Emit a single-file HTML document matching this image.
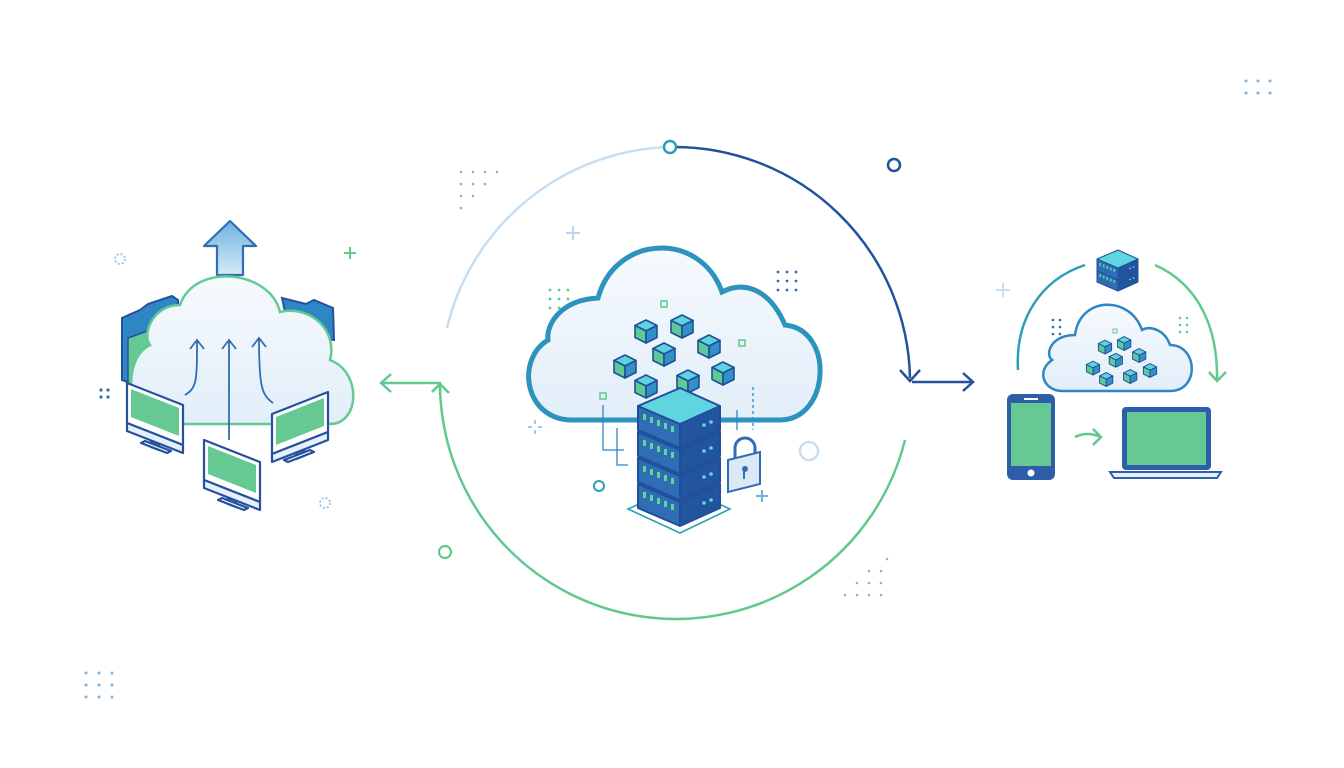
<!DOCTYPE html>
<html><head><meta charset="utf-8"><style>html,body{margin:0;padding:0;background:#fff}svg{display:block}</style></head>
<body>
<svg width="1344" height="768" viewBox="0 0 1344 768" xmlns="http://www.w3.org/2000/svg">
<defs>
<linearGradient id="cl" x1="0" y1="0" x2="0" y2="1"><stop offset="0" stop-color="#f6fafe"/><stop offset="1" stop-color="#e2eef9"/></linearGradient>
<linearGradient id="up" x1="0" y1="0" x2="0" y2="1"><stop offset="0" stop-color="#6fb2e0"/><stop offset="1" stop-color="#d6ebf7"/></linearGradient>
<g id="cube" stroke="#1f4f9a" stroke-width="1.6" stroke-linejoin="round">
<path d="M0,-11 L11,-5.5 L0,0 L-11,-5.5Z" fill="#5fd3dd"/>
<path d="M-11,-5.5 L0,0 L0,12 L-11,6.5Z" fill="#5ec994"/>
<path d="M0,0 L11,-5.5 L11,6.5 L0,12Z" fill="#3390c6"/>
</g>
<g id="unit" stroke="#1f4f9a" stroke-width="2" stroke-linejoin="round">
<path d="M-42,0 L0,18 L0,42 L-42,24Z" fill="#2f6db4"/>
<path d="M0,18 L40,0 L40,24 L0,42Z" fill="#23559f"/>
<path d="M-42,0 L0,-18 L40,0 L0,18Z" fill="#5fd6df"/>
<g fill="#63d39a" stroke="none"><rect x="-37" y="8" width="3" height="6"/><rect x="-30" y="11" width="3" height="6"/><rect x="-23" y="14" width="3" height="6"/><rect x="-16" y="17" width="3" height="6"/><rect x="-9" y="20" width="3" height="6"/></g>
<circle cx="24" cy="19" r="1.8" fill="#5fd6df" stroke="none"/><circle cx="31" cy="16" r="1.8" fill="#5fd6df" stroke="none"/>
</g>
<g id="mon" stroke="#24509e" stroke-width="2.2" stroke-linejoin="round">
<path d="M0,0 L56,22 L56,62 L0,40Z" fill="#fff"/>
<path d="M4,6 L52,25 L52,53 L4,34Z" fill="#66c993" stroke="none"/>
<path d="M0,40 L56,62 L56,70 L0,48Z" fill="#e6f0fa"/>
<path d="M24,58 L32,61 L32,67 L24,64Z" fill="#fff"/>
<path d="M14,60 L40,70 L44,68 L18,58Z" fill="#eef5fc"/>
</g>
</defs>

<!-- main ring -->
<path d="M447,328 A236,236 0 0 1 670,147" fill="none" stroke="#c4def3" stroke-width="2.5"/>
<path d="M670,147 A236,236 0 0 1 910,378" fill="none" stroke="#22519d" stroke-width="2.5"/>
<path d="M905,440 A236,236 0 0 1 440,385" fill="none" stroke="#5fc98e" stroke-width="2.5"/>
<circle cx="670" cy="147" r="6" fill="#fff" stroke="#2b9fb8" stroke-width="2.5"/>
<path d="M900,370 L910,381 L920,370" fill="none" stroke="#22519d" stroke-width="2.5"/>
<path d="M912,382 L972,382 M963,373 L973,382 L963,391" fill="none" stroke="#22519d" stroke-width="2.5"/>
<path d="M440,395 L440,383 L382,383 M391,374 L381,383 L391,392 M432,392 L440,384 L449,393" fill="none" stroke="#5fc98e" stroke-width="2.5"/>

<!-- decorations -->
<circle cx="894" cy="165" r="6" fill="none" stroke="#22519d" stroke-width="2.5"/>
<circle cx="445" cy="552" r="6" fill="none" stroke="#5fc98e" stroke-width="2.2"/>
<circle cx="809" cy="451" r="9" fill="none" stroke="#c4def3" stroke-width="2.5"/>
<circle cx="599" cy="486" r="5" fill="none" stroke="#2b9fb8" stroke-width="2"/>
<circle cx="120" cy="259" r="5" fill="none" stroke="#9cc9ec" stroke-width="2" stroke-dasharray="2 2"/>
<circle cx="325" cy="503" r="5" fill="none" stroke="#9cc9ec" stroke-width="2" stroke-dasharray="2 2"/>
<g stroke-width="2" fill="none">
<path d="M350,247v12M344,253h12" stroke="#5fc98e"/>
<path d="M573,226v14M566,233h14" stroke="#b8d6f0"/>
<path d="M1003,283v14M996,290h14" stroke="#c4def3"/>
<path d="M762,490v12M756,496h12" stroke="#6fb2e0"/>
<path d="M535,420v4M535,430v4M528,427h4M538,427h4" stroke="#9cc9ec"/>
</g>
<g fill="#7ab7df">
<circle cx="461" cy="172" r="1.3"/><circle cx="473" cy="172" r="1.3"/><circle cx="485" cy="172" r="1.3"/><circle cx="497" cy="172" r="1.3"/><circle cx="461" cy="184" r="1.3"/><circle cx="473" cy="184" r="1.3"/><circle cx="485" cy="184" r="1.3"/><circle cx="461" cy="196" r="1.3"/><circle cx="473" cy="196" r="1.3"/><circle cx="461" cy="208" r="1.3"/>
<circle cx="1246" cy="81" r="1.5"/><circle cx="1258" cy="81" r="1.5"/><circle cx="1270" cy="81" r="1.5"/><circle cx="1246" cy="93" r="1.5"/><circle cx="1258" cy="93" r="1.5"/><circle cx="1270" cy="93" r="1.5"/>
<circle cx="86" cy="673" r="1.5"/><circle cx="99" cy="673" r="1.5"/><circle cx="112" cy="673" r="1.5"/><circle cx="86" cy="685" r="1.5"/><circle cx="99" cy="685" r="1.5"/><circle cx="112" cy="685" r="1.5"/><circle cx="86" cy="697" r="1.5"/><circle cx="99" cy="697" r="1.5"/><circle cx="112" cy="697" r="1.5"/>
<circle cx="845" cy="595" r="1.3"/><circle cx="857" cy="595" r="1.3"/><circle cx="869" cy="595" r="1.3"/><circle cx="881" cy="595" r="1.3"/><circle cx="857" cy="583" r="1.3"/><circle cx="869" cy="583" r="1.3"/><circle cx="881" cy="583" r="1.3"/><circle cx="869" cy="571" r="1.3"/><circle cx="881" cy="571" r="1.3"/><circle cx="887" cy="559" r="1.3"/>
</g>
<g fill="#2f6db4"><circle cx="101" cy="390" r="1.6"/><circle cx="108" cy="390" r="1.6"/><circle cx="101" cy="397" r="1.6"/><circle cx="108" cy="397" r="1.6"/>
<circle cx="778" cy="272" r="1.4"/><circle cx="787" cy="272" r="1.4"/><circle cx="796" cy="272" r="1.4"/><circle cx="778" cy="281" r="1.4"/><circle cx="787" cy="281" r="1.4"/><circle cx="796" cy="281" r="1.4"/><circle cx="778" cy="290" r="1.4"/><circle cx="787" cy="290" r="1.4"/><circle cx="796" cy="290" r="1.4"/>
<circle cx="1053" cy="320" r="1.3"/><circle cx="1060" cy="320" r="1.3"/><circle cx="1053" cy="327" r="1.3"/><circle cx="1060" cy="327" r="1.3"/><circle cx="1053" cy="334" r="1.3"/><circle cx="1060" cy="334" r="1.3"/></g>
<g fill="#5fc98e"><circle cx="550" cy="290" r="1.4"/><circle cx="559" cy="290" r="1.4"/><circle cx="568" cy="290" r="1.4"/><circle cx="550" cy="299" r="1.4"/><circle cx="559" cy="299" r="1.4"/><circle cx="568" cy="299" r="1.4"/><circle cx="550" cy="308" r="1.4"/><circle cx="559" cy="308" r="1.4"/>
<circle cx="1180" cy="318" r="1.3"/><circle cx="1187" cy="318" r="1.3"/><circle cx="1180" cy="325" r="1.3"/><circle cx="1187" cy="325" r="1.3"/><circle cx="1180" cy="332" r="1.3"/><circle cx="1187" cy="332" r="1.3"/></g>

<!-- LEFT -->
<path d="M204,246 L230,221 L256,246 L243,246 L243,275 L217,275 L217,246Z" fill="url(#up)" stroke="#2f6db4" stroke-width="2.2" stroke-linejoin="round"/>
<path d="M122,318 L140,310 L148,304 L172,296 L178,300 L180,400 L122,380Z" fill="#2f86c4" stroke="#24509e" stroke-width="2"/>
<path d="M128,338 L178,320 L178,395 L128,388Z" fill="#66c993" stroke="#24509e" stroke-width="1.5"/>
<path d="M282,298 L306,304 L314,300 L333,308 L334,340 L290,335Z" fill="#2f86c4" stroke="#24509e" stroke-width="2"/>
<path d="M160,424 L330,424 C360,424 362,372 330,360 C338,330 310,305 280,312 C270,270 195,262 180,305 C152,305 142,335 150,345 C120,360 128,424 160,424Z" fill="url(#cl)" stroke="#62cb92" stroke-width="2.5"/>
<g fill="none" stroke="#2f6db4" stroke-width="1.8">
<path d="M185,395 C197,388 197,380 197,340 M190,349 L197,340 L204,349"/>
<path d="M229,440 L229,340 M222,349 L229,340 L236,349"/>
<path d="M273,403 C262,395 259,388 259,338 M252,347 L259,338 L266,347"/>
</g>
<use href="#mon" x="127" y="383"/>
<use href="#mon" x="204" y="440"/>
<g transform="translate(328,392) scale(-1,1)"><use href="#mon"/></g>

<!-- CENTER cloud -->
<path d="M572,420 L780,420 C830,420 835,330 785,325 C770,290 745,280 722,292 C700,230 615,235 598,298 C560,300 546,325 548,340 C515,360 525,420 572,420Z" fill="url(#cl)" stroke="#2b93bd" stroke-width="5"/>
<use href="#cube" x="646" y="331"/><use href="#cube" x="682" y="326"/><use href="#cube" x="709" y="346"/>
<use href="#cube" x="664" y="354"/><use href="#cube" x="625" y="366"/><use href="#cube" x="723" y="373"/>
<use href="#cube" x="646" y="386"/><use href="#cube" x="688" y="381"/>
<g fill="none" stroke="#5fc98e" stroke-width="1.5"><rect x="661" y="301" width="6" height="6"/><rect x="739" y="340" width="6" height="6"/><rect x="600" y="393" width="6" height="6"/></g>
<g fill="none" stroke="#2f86c4" stroke-width="1.3">
<path d="M603,405 V450 H624"/><path d="M617,428 V465 H628"/><path d="M753,387 V430" stroke-dasharray="3 3"/><path d="M737,410 V430"/>
</g>
<path d="M628,509 L680,486 L730,509 L680,533Z" fill="#fff" stroke="#2b9fb8" stroke-width="1.6"/>
<use href="#unit" x="680" y="484"/>
<use href="#unit" x="680" y="458"/>
<use href="#unit" x="680" y="432"/>
<use href="#unit" x="680" y="406"/>
<path d="M735,458 V448 A10,10 0 0 1 755,448 V458" fill="none" stroke="#2f6db4" stroke-width="3"/>
<path d="M728,460 L760,452 L760,484 L728,492Z" fill="#dbe9f7" stroke="#2f6db4" stroke-width="2"/>
<circle cx="745" cy="469" r="3" fill="#2f6db4"/><path d="M744,470 V479" stroke="#2f6db4" stroke-width="2"/>

<!-- RIGHT -->
<path d="M1018,370 C1015,320 1040,280 1085,265" fill="none" stroke="#2b9fb8" stroke-width="2.5"/>
<path d="M1155,265 C1200,285 1218,330 1217,380 M1209,372 L1217,381 L1226,372" fill="none" stroke="#5fc98e" stroke-width="2.5"/>
<g transform="translate(1118,259) scale(0.5)"><use href="#unit" y="22"/><use href="#unit"/></g>
<path d="M1062,391 L1170,391 C1200,391 1198,345 1170,345 C1165,330 1150,325 1142,330 C1130,295 1080,296 1075,335 C1050,335 1045,355 1052,360 C1035,372 1045,391 1062,391Z" fill="url(#cl)" stroke="#2f86c4" stroke-width="2.5"/>
<g transform="translate(1090,330) scale(0.6)">
<use href="#cube" x="25" y="28"/><use href="#cube" x="57" y="22"/><use href="#cube" x="43" y="50"/><use href="#cube" x="82" y="42"/><use href="#cube" x="5" y="63"/><use href="#cube" x="100" y="67"/><use href="#cube" x="27" y="82"/><use href="#cube" x="67" y="77"/>
</g>
<rect x="1113" y="329" width="4" height="4" fill="none" stroke="#5fc98e" stroke-width="1"/>
<rect x="1007" y="394" width="48" height="86" rx="6" fill="#2f5ea9"/>
<rect x="1011" y="403" width="40" height="63" fill="#66c993"/>
<circle cx="1031" cy="473" r="3.5" fill="#fff"/><rect x="1024" y="398" width="14" height="2" fill="#fff"/>
<path d="M1075,437 C1085,432 1093,434 1101,437 M1093,429 L1101,437 L1093,445" fill="none" stroke="#5fc98e" stroke-width="2.5"/>
<rect x="1122" y="407" width="89" height="63" rx="4" fill="#2f5ea9"/>
<rect x="1127" y="412" width="79" height="53" fill="#66c993"/>
<path d="M1110,472 L1221,472 L1217,478 L1114,478Z" fill="#e6f0fa" stroke="#2f5ea9" stroke-width="2"/>
</svg>
</body></html>
